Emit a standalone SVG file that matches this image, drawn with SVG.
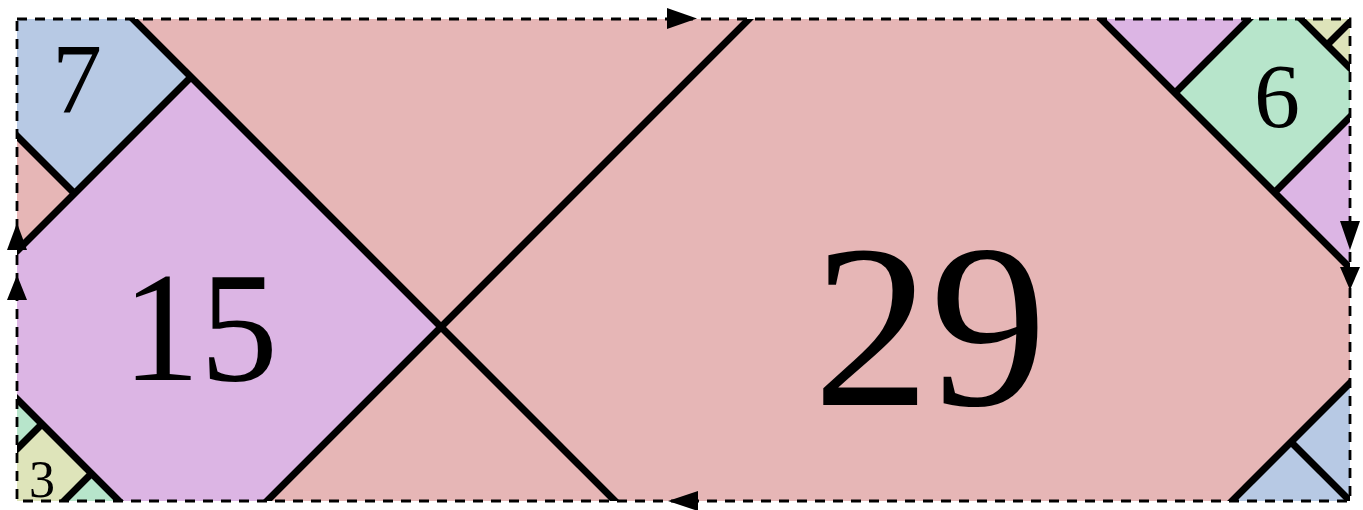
<svg xmlns="http://www.w3.org/2000/svg" width="1363" height="510" viewBox="0 0 1363 510">
<defs>
<style>
.pink{fill:#e6b6b6}
.purple{fill:#dcb5e4}
.blue{fill:#b7c9e4}
.green{fill:#b7e5cb}
.yellow{fill:#dee4ba}
.edge{stroke:#000;stroke-width:7;fill:none;stroke-linecap:butt}
.lbl{font-family:"Liberation Serif","Times New Roman",serif;fill:#000;text-anchor:middle}
.arrow{fill:#000}
</style>
<clipPath id="frameclip"><rect x="17" y="19" width="1333" height="482"/></clipPath>
</defs>
<rect width="1363" height="510" fill="#fff"/>
<g clip-path="url(#frameclip)">
<g id="tile-29">
<rect class="pink" x="17" y="19" width="1333" height="482"/>
<text class="lbl" x="930" y="405" font-size="234">29</text>
</g>
<g id="tile-15">
<polygon class="purple" points="191,77 441,327 267,501 119,501 17,399 17,251"/>
<polygon class="purple" points="1101,19 1249,19 1175,93"/>
<polygon class="purple" points="1274.5,192.5 1350,117 1350,268"/>
<text class="lbl" x="200" y="380" font-size="156">15</text>
</g>
<g id="tile-7">
<polygon class="blue" points="17,19 133,19 191,77 74.5,193.5 17,136"/>
<polygon class="blue" points="1232,501 1350,383 1350,501"/>
<text class="lbl" x="77" y="112" font-size="100">7</text>
</g>
<g id="tile-6">
<polygon class="green" points="1175,93 1249,19 1301,19 1350,68 1350,117 1274.5,192.5"/>
<polygon class="green" points="17,399 42,424 17,449"/>
<polygon class="green" points="91.5,473.5 120,501 64,501"/>
<text class="lbl" x="1277" y="127" font-size="92">6</text>
</g>
<g id="tile-3">
<polygon class="yellow" points="1301,19 1350,19 1350,68"/>
<polygon class="yellow" points="17,449 42,424 91.5,473.5 64,501 17,501"/>
<text class="lbl" x="42" y="497" font-size="52">3</text>
</g>
<g id="connectors">
<line class="edge" x1="128" y1="14" x2="620" y2="506"/>
<line class="edge" x1="754" y1="14" x2="262" y2="506"/>
<line class="edge" x1="191" y1="77" x2="12" y2="256"/>
<line class="edge" x1="12" y1="131" x2="74.5" y2="193.5"/>
<line class="edge" x1="12" y1="394" x2="124" y2="506"/>
<line class="edge" x1="12" y1="454" x2="42" y2="424"/>
<line class="edge" x1="59" y1="506" x2="91.5" y2="473.5"/>
<line class="edge" x1="1096" y1="14" x2="1355" y2="273"/>
<line class="edge" x1="1254" y1="14" x2="1175" y2="93"/>
<line class="edge" x1="1274.5" y1="192.5" x2="1355" y2="112"/>
<line class="edge" x1="1296" y1="14" x2="1355" y2="73"/>
<line class="edge" x1="1327" y1="45" x2="1355" y2="17"/>
<line class="edge" x1="1355" y1="378" x2="1227" y2="506"/>
<line class="edge" x1="1291.5" y1="442.5" x2="1355" y2="506"/>
</g>
</g>
<g id="frame">
<rect x="17" y="19" width="1333" height="482" fill="none" stroke="#000" stroke-width="2.8" stroke-dasharray="10 8"/>
<polygon class="arrow" points="667,8 697,18.5 667,29"/>
<polygon class="arrow" points="698,491 668,501 698,511"/>
<polygon class="arrow" points="7,250 17,223 27,250"/>
<polygon class="arrow" points="7,300 17,275 27,300"/>
<polygon class="arrow" points="1340,221 1350,250 1360,221"/>
<polygon class="arrow" points="1340,267 1350,290 1360,267"/>
</g>
</svg>
